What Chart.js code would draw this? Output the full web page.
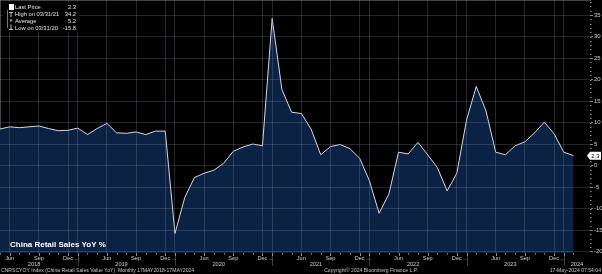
<!DOCTYPE html>
<html><head><meta charset="utf-8">
<script src="https://cdn.jsdelivr.net/npm/chart.js@4.4.1/dist/chart.umd.min.js"></script>
<style>html,body{margin:0;padding:0;background:#000;overflow:hidden}#wrap{width:602px;height:274px;position:relative}</style>
</head><body><div id="wrap"><canvas id="c" width="602" height="274"></canvas></div>
<script>
// Observations (Bloomberg omits Jan/Feb each year)
const obsDates = [
  '2018-05','2018-06','2018-07','2018-08','2018-09','2018-10','2018-11','2018-12',
  '2019-03','2019-04','2019-05','2019-06','2019-07','2019-08','2019-09','2019-10','2019-11','2019-12',
  '2020-03','2020-04','2020-05','2020-06','2020-07','2020-08','2020-09','2020-10','2020-11','2020-12',
  '2021-03','2021-04','2021-05','2021-06','2021-07','2021-08','2021-09','2021-10','2021-11','2021-12',
  '2022-03','2022-04','2022-05','2022-06','2022-07','2022-08','2022-09','2022-10','2022-11','2022-12',
  '2023-03','2023-04','2023-05','2023-06','2023-07','2023-08','2023-09','2023-10','2023-11','2023-12',
  '2024-03','2024-04'
];
const retailYoY = [
  8.5, 9.0, 8.8, 9.0, 9.2, 8.6, 8.1, 8.2,
  8.7, 7.2, 8.6, 9.8, 7.6, 7.5, 7.8, 7.2, 8.0, 8.0,
  -15.8, -7.5, -2.8, -1.8, -1.1, 0.5, 3.3, 4.3, 5.0, 4.6,
  34.2, 17.7, 12.4, 12.1, 8.5, 2.5, 4.4, 4.9, 3.9, 1.7,
  -3.5, -11.1, -6.7, 3.1, 2.7, 5.4, 2.5, -0.5, -5.9, -1.8,
  10.6, 18.4, 12.7, 3.1, 2.5, 4.6, 5.5, 7.6, 10.1, 7.4,
  3.1, 2.3
];
const yTickValues = [-20, -15, -10, -5, 0, 5, 10, 15, 20, 25, 30, 35];
const gridMonths = ['03', '06', '09', '12'];
const monthTickText = { '06': 'Jun', '09': 'Sep', '12': 'Dec' };
const yearLabels = ['2018', '2019', '2020', '2021', '2022', '2023', '2024'];
const chartTitle = 'China Retail Sales YoY %';
const footerLeft = 'CNRSCYOY Index (China Retail Sales Value YoY)  Monthly 17MAY2018-17MAY2024';
const footerMid = 'Copyright\u00A9 2024 Bloomberg Finance L.P.';
const footerRight = '17-May-2024 07:54:04';

const X_MAX = 60.7, Y_MIN = -20.35, Y_MAX = 38.5;
const FONT = '"Liberation Sans", Arial, sans-serif';
const gridColor = 'rgba(135,145,165,0.26)';

const points = retailYoY.map((v, i) => ({ x: i, y: v }));
const gridIdx = obsDates.map((d, i) => gridMonths.includes(d.slice(5)) ? i : null).filter(v => v !== null);

function fmtDate(s) {
  const y = +s.slice(0, 4), m = +s.slice(5);
  const day = new Date(y, m, 0).getDate();
  return String(m).padStart(2, '0') + '/' + String(day).padStart(2, '0') + '/' + String(y).slice(2);
}
const lastVal = retailYoY[retailYoY.length - 1];
let hiI = 0, loI = 0;
retailYoY.forEach((v, i) => { if (v > retailYoY[hiI]) hiI = i; if (v < retailYoY[loI]) loI = i; });
const avg = retailYoY.reduce((a, b) => a + b, 0) / retailYoY.length;

const overlay = {
  id: 'overlay',
  beforeDraw(chart) {
    const c = chart.ctx;
    c.save(); c.fillStyle = '#000'; c.fillRect(0, 0, chart.width, chart.height); c.restore();
  },
  afterDraw(chart) {
    const c = chart.ctx, xs = chart.scales.x, ys = chart.scales.y, ca = chart.chartArea;
    c.save();
    // x minor/major ticks
    c.strokeStyle = '#8a8a8a'; c.lineWidth = 1;
    obsDates.forEach((d, i) => {
      const px = Math.round(xs.getPixelForValue(i)) + 0.5;
      const len = gridMonths.includes(d.slice(5)) ? 3 : 1.5;
      c.beginPath(); c.moveTo(px, ca.bottom); c.lineTo(px, ca.bottom + len); c.stroke();
    });
    // year separators
    c.strokeStyle = 'rgba(150,150,150,0.4)';
    obsDates.forEach((d, i) => {
      if (d.slice(5) === '03') {
        const px = Math.round(xs.getPixelForValue(i)) + 0.5;
        c.beginPath(); c.moveTo(px, ca.bottom); c.lineTo(px, ca.bottom + 13); c.stroke();
      }
    });
    // y minor ticks
    c.strokeStyle = '#8a8a8a';
    for (let v = -20; v <= 38; v++) {
      const py = Math.round(ys.getPixelForValue(v)) + 0.5;
      c.beginPath(); c.moveTo(ca.right, py); c.lineTo(ca.right + 1.5, py); c.stroke();
    }
    // month labels
    c.fillStyle = '#cfcfcf'; c.font = '5.6px ' + FONT; c.textBaseline = 'middle';
    obsDates.forEach((d, i) => {
      const t = monthTickText[d.slice(5)];
      if (!t) return;
      const px = xs.getPixelForValue(i);
      const w = c.measureText(t).width;
      c.textAlign = 'left';
      c.fillText(d.slice(5) === '12' ? t + ' ...' : t, px - w / 2, ca.bottom + 5);
    });
    // year labels
    c.textAlign = 'center';
    yearLabels.forEach(y => {
      let first = -1, last = -1;
      obsDates.forEach((d, i) => { if (d.startsWith(y)) { if (first < 0) first = i; last = i; } });
      if (first < 0) return;
      if (y === yearLabels[yearLabels.length - 1]) last = X_MAX;
      c.fillText(y, xs.getPixelForValue((first + last) / 2), ca.bottom + 11);
    });
    // footer
    c.font = '5.1px ' + FONT; c.fillStyle = '#c4c4c4';
    c.textAlign = 'left'; c.fillText(footerLeft, 1, 270.5);
    c.textAlign = 'center'; c.fillText(footerMid, 371, 270.5);
    c.textAlign = 'right'; c.fillText(footerRight, 601, 270.5);
    // title
    c.font = 'bold 8px ' + FONT; c.fillStyle = '#ffffff'; c.textAlign = 'left';
    c.fillText(chartTitle, 10, 245);
    // last price tag
    const py = ys.getPixelForValue(lastVal);
    c.fillStyle = '#ffffff';
    c.beginPath();
    c.moveTo(587, py); c.lineTo(590, py - 4); c.lineTo(601, py - 4); c.lineTo(601, py + 4); c.lineTo(590, py + 4); c.closePath();
    c.fill();
    c.fillStyle = '#000'; c.font = '6px ' + FONT; c.textAlign = 'center';
    c.fillText(lastVal.toFixed(1), 595.5, py + 0.5);
    // legend
    c.fillStyle = '#000'; c.fillRect(3, 2, 76, 30);
    c.strokeStyle = '#777'; c.lineWidth = 1;
    c.beginPath(); c.moveTo(7.5, 10); c.lineTo(7.5, 28); c.stroke();
    c.fillStyle = '#ffffff'; c.fillRect(9, 4, 5, 6);
    c.strokeStyle = '#bbb';
    c.beginPath(); c.moveTo(9, 12.5); c.lineTo(13, 12.5); c.moveTo(11, 12.5); c.lineTo(11, 17); c.stroke();
    c.fillStyle = '#bbb';
    c.beginPath(); c.moveTo(9.5, 19.5); c.lineTo(12.5, 19.5); c.lineTo(11, 22); c.closePath(); c.fill();
    c.beginPath(); c.moveTo(11, 24.5); c.lineTo(11, 29); c.moveTo(9, 29.5); c.lineTo(13, 29.5); c.stroke();
    c.font = '5.8px ' + FONT; c.fillStyle = '#e6e6e6';
    const rows = [
      ['Last Price', lastVal.toFixed(1)],
      ['High on ' + fmtDate(obsDates[hiI]), retailYoY[hiI].toFixed(1)],
      ['Average', avg.toFixed(1)],
      ['Low on ' + fmtDate(obsDates[loI]), retailYoY[loI].toFixed(1)]
    ];
    rows.forEach((r, k) => {
      const yy = 7.5 + k * 6.8;
      c.textAlign = 'left'; c.fillText(r[0], 15, yy);
      c.textAlign = 'right'; c.fillText(r[1], 76, yy);
    });
    c.restore();
  }
};

new Chart(document.getElementById('c'), {
  type: 'line',
  data: {
    datasets: [{
      data: points,
      borderColor: '#d6d8e0',
      borderWidth: 1,
      backgroundColor: '#0c2244',
      fill: 'start',
      pointRadius: 0,
      tension: 0
    }]
  },
  options: {
    responsive: false,
    animation: false,
    devicePixelRatio: 1,
    layout: { padding: 0 },
    plugins: { legend: { display: false }, tooltip: { enabled: false } },
    scales: {
      x: {
        type: 'linear', min: 0, max: X_MAX, position: 'bottom',
        grid: { color: gridColor, z: 1, drawTicks: false, lineWidth: 1 },
        border: { display: true, color: '#8a8a8a' },
        ticks: { display: false },
        afterBuildTicks: s => { s.ticks = gridIdx.map(v => ({ value: v })); },
        afterFit: s => { s.height = 21; s.paddingLeft = 0; s.paddingRight = 0; }
      },
      y: {
        type: 'linear', min: Y_MIN, max: Y_MAX, position: 'right',
        grid: { color: gridColor, z: 1, drawTicks: true, tickLength: 3, tickColor: '#8a8a8a' },
        border: { display: true, color: '#8a8a8a' },
        ticks: { color: '#cfcfcf', font: { size: 6, family: FONT }, padding: 1 },
        afterBuildTicks: s => { s.ticks = yTickValues.map(v => ({ value: v })); },
        afterFit: s => { s.width = 12; s.paddingTop = 0; s.paddingBottom = 0; }
      }
    }
  },
  plugins: [overlay]
});
</script>
</body></html>
